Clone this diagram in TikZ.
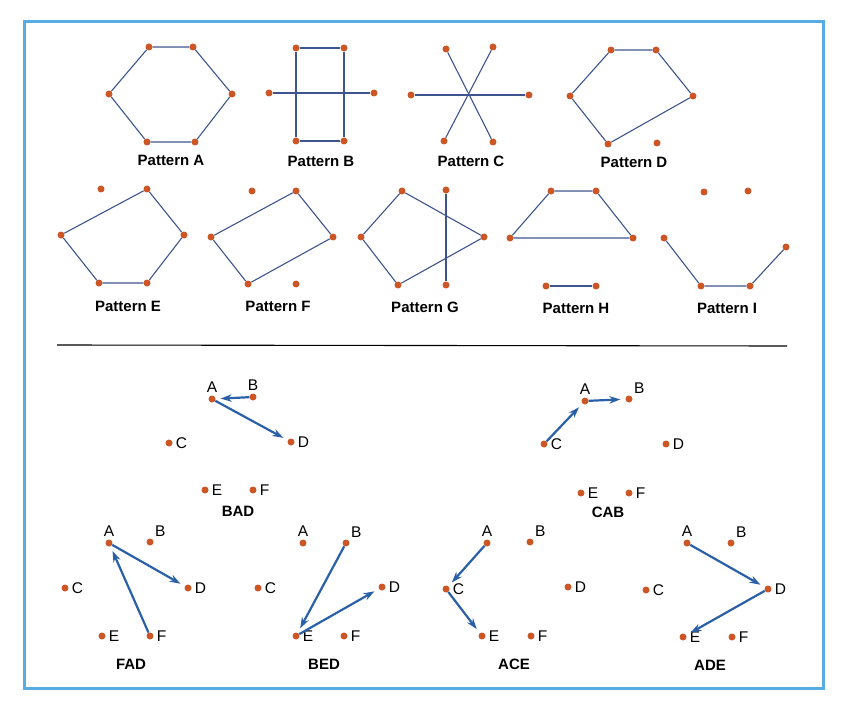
\documentclass[tikz,border=0pt]{standalone}
\usepackage{fontspec}
\setmainfont{Liberation Sans}
\usetikzlibrary{positioning, calc, arrows.meta}

\definecolor{framecol}{RGB}{88,172,228}
\definecolor{dotcol}{RGB}{204,86,38}
\definecolor{edgecol}{RGB}{62,84,140}
\definecolor{arrcol}{RGB}{42,96,168}

\tikzset{
  dot/.style={circle, fill=dotcol, inner sep=0pt, minimum size=7pt},
  edge/.style={edgecol, line width=1.1pt},
  arr/.style={arrcol, line width=2.2pt, -{Stealth[length=11pt,width=7.5pt]}, shorten >=5pt},
  title/.style={font=\fontsize{15}{18}\selectfont\bfseries},
  letter/.style={font=\fontsize{15.5}{18}\selectfont, inner sep=1pt, label distance=2pt},
}

\begin{document}
\begin{tikzpicture}[x=1pt, y=-1pt]
        \useasboundingbox (0,0) rectangle (848,714);
        \draw[framecol, line width=3pt] (24,22) rectangle (823,688);   %frame

        % pattern A
        \node[dot] (pA1) at (149,47) {};
        \node[dot] (pA2) at (193,47) {};
        \node[dot] (pA3) at (232,94) {};
        \node[dot] (pA4) at (195,142) {};
        \node[dot] (pA5) at (147,142) {};
        \node[dot] (pA6) at (109,94) {};
        \draw[edge] (pA1) -- (pA2) -- (pA3) -- (pA4) -- (pA5) -- (pA6) -- (pA1);
        \node[title] (tA) at (171,160) {Pattern A};

        % pattern B
        \node[dot] (pB1) at (296,48) {};
        \node[dot] (pB2) at (344,48) {};
        \node[dot] (pB3) at (344,141) {};
        \node[dot] (pB4) at (296,141) {};
        \node[dot] (pB5) at (269,93) {};
        \node[dot] (pB6) at (374,93) {};
        \draw[edge] (pB1) -- (pB2) -- (pB3) -- (pB4) -- (pB1);
        \draw[edge] (pB5) -- (pB6);
        \node[title] (tB) at (321,161) {Pattern B};

        % pattern C
        \node[dot] (pC1) at (446,49) {};
        \node[dot] (pC2) at (493,47) {};
        \node[dot] (pC3) at (529,95) {};
        \node[dot] (pC4) at (493,142) {};
        \node[dot] (pC5) at (444,141) {};
        \node[dot] (pC6) at (411,95) {};
        \draw[edge] (pC1) -- (pC4);
        \draw[edge] (pC2) -- (pC5);
        \draw[edge] (pC6) -- (pC3);
        \node[title] (tC) at (471,161) {Pattern C};

        % pattern D
        \node[dot] (pD1) at (611,50) {};
        \node[dot] (pD2) at (656,50) {};
        \node[dot] (pD3) at (693,96) {};
        \node[dot] (pD4) at (657,143) {};
        \node[dot] (pD5) at (608,144) {};
        \node[dot] (pD6) at (570,96) {};
        \draw[edge] (pD1) -- (pD2) -- (pD3) -- (pD5) -- (pD6) -- (pD1);
        \node[title] (tD) at (634,162) {Pattern D};

        % pattern E
        \node[dot] (pE1) at (101,189) {};
        \node[dot] (pE2) at (147,189) {};
        \node[dot] (pE3) at (184,235) {};
        \node[dot] (pE4) at (147,283) {};
        \node[dot] (pE5) at (99,283) {};
        \node[dot] (pE6) at (61,235) {};
        \draw[edge] (pE2) -- (pE3) -- (pE4) -- (pE5) -- (pE6) -- (pE2);
        \node[title] (tE) at (128,306) {Pattern E};

        % pattern F
        \node[dot] (pF1) at (252,191) {};
        \node[dot] (pF2) at (296,191) {};
        \node[dot] (pF3) at (333,237) {};
        \node[dot] (pF4) at (296,284) {};
        \node[dot] (pF5) at (248,284) {};
        \node[dot] (pF6) at (211,237) {};
        \draw[edge] (pF2) -- (pF3) -- (pF5) -- (pF6) -- (pF2);
        \node[title] (tF) at (278,306) {Pattern F};

        % pattern G
        \node[dot] (pG1) at (402,191) {};
        \node[dot] (pG2) at (446,190) {};
        \node[dot] (pG3) at (484,237) {};
        \node[dot] (pG4) at (446,285) {};
        \node[dot] (pG5) at (398,285) {};
        \node[dot] (pG6) at (361,237) {};
        \draw[edge] (pG1) -- (pG3) -- (pG5) -- (pG6) -- (pG1);
        \draw[edge] (pG2) -- (pG4);
        \node[title] (tG) at (425,307) {Pattern G};

        % pattern H
        \node[dot] (pH1) at (551,191) {};
        \node[dot] (pH2) at (596,191) {};
        \node[dot] (pH3) at (633,238) {};
        \node[dot] (pH4) at (596,286) {};
        \node[dot] (pH5) at (546,286) {};
        \node[dot] (pH6) at (510,238) {};
        \draw[edge] (pH1) -- (pH2) -- (pH3) -- (pH6) -- (pH1);
        \draw[edge] (pH5) -- (pH4);
        \node[title] (tH) at (576,308) {Pattern H};

        % pattern I
        \node[dot] (pI1) at (704,192) {};
        \node[dot] (pI2) at (748,191) {};
        \node[dot] (pI3) at (786,247) {};
        \node[dot] (pI4) at (750,286) {};
        \node[dot] (pI5) at (701,286) {};
        \node[dot] (pI6) at (664,238) {};
        \draw[edge] (pI6) -- (pI5) -- (pI4) -- (pI3);
        \node[title] (tI) at (727,308) {Pattern I};

        % separator
        \coordinate (sepL) at (57,345);
        \coordinate (sepR) at (787,346);
        \draw[black, line width=1.1pt] (sepL) -- (sepR);

        % BAD
        \node[dot, label={[letter]above:A}] (badA) at (212,399) {};
        \node[dot, label={[letter]above:B}] (badB) at (253,397) {};
        \node[dot, label={[letter]right:C}] (badC) at (169,443) {};
        \node[dot, label={[letter]right:D}] (badD) at (291,442) {};
        \node[dot, label={[letter]right:E}] (badE) at (205,490) {};
        \node[dot, label={[letter]right:F}] (badF) at (253,490) {};
        \draw[arr] (badB) -- (badA);
        \draw[arr] (badA) -- (badD);
        \node[title] (tBAD) at (238,511) {BAD};

        % CAB
        \node[dot, label={[letter]above:A}] (cabA) at (585,401) {};
        \node[dot, label={[letter]above right:B}] (cabB) at (629,399) {};
        \node[dot, label={[letter]right:C}] (cabC) at (544,444) {};
        \node[dot, label={[letter]right:D}] (cabD) at (666,444) {};
        \node[dot, label={[letter]right:E}] (cabE) at (581,493) {};
        \node[dot, label={[letter]right:F}] (cabF) at (629,493) {};
        \draw[arr] (cabC) -- (cabA);
        \draw[arr] (cabA) -- (cabB);
        \node[title] (tCAB) at (608,512) {CAB};

        % FAD
        \node[dot, label={[letter]above:A}] (fadA) at (109,543) {};
        \node[dot, label={[letter]above right:B}] (fadB) at (150,542) {};
        \node[dot, label={[letter]right:C}] (fadC) at (65,588) {};
        \node[dot, label={[letter]right:D}] (fadD) at (188,588) {};
        \node[dot, label={[letter]right:E}] (fadE) at (102,636) {};
        \node[dot, label={[letter]right:F}] (fadF) at (150,636) {};
        \draw[arr] (fadF) -- (fadA);
        \draw[arr] (fadA) -- (fadD);
        \node[title] (tFAD) at (131,664) {FAD};

        % BED
        \node[dot, label={[letter]above:A}] (bedA) at (303,543) {};
        \node[dot, label={[letter]above right:B}] (bedB) at (346,543) {};
        \node[dot, label={[letter]right:C}] (bedC) at (258,588) {};
        \node[dot, label={[letter]right:D}] (bedD) at (382,587) {};
        \node[dot, label={[letter]right:E}] (bedE) at (296,636) {};
        \node[dot, label={[letter]right:F}] (bedF) at (344,636) {};
        \draw[arr] (bedB) -- (bedE);
        \draw[arr] (bedE) -- (bedD);
        \node[title] (tBED) at (324,664) {BED};

        % ACE
        \node[dot, label={[letter]above:A}] (aceA) at (487,543) {};
        \node[dot, label={[letter]above right:B}] (aceB) at (530,542) {};
        \node[dot, label={[letter]right:C}] (aceC) at (446,589) {};
        \node[dot, label={[letter]right:D}] (aceD) at (568,587) {};
        \node[dot, label={[letter]right:E}] (aceE) at (482,636) {};
        \node[dot, label={[letter]right:F}] (aceF) at (531,636) {};
        \draw[arr] (aceA) -- (aceC);
        \draw[arr] (aceC) -- (aceE);
        \node[title] (tACE) at (514,664) {ACE};

        % ADE
        \node[dot, label={[letter]above:A}] (adeA) at (687,543) {};
        \node[dot, label={[letter]above right:B}] (adeB) at (731,543) {};
        \node[dot, label={[letter]right:C}] (adeC) at (646,590) {};
        \node[dot, label={[letter]right:D}] (adeD) at (768,589) {};
        \node[dot, label={[letter]right:E}] (adeE) at (683,637) {};
        \node[dot, label={[letter]right:F}] (adeF) at (732,637) {};
        \draw[arr] (adeA) -- (adeD);
        \draw[arr] (adeD) -- (adeE);
        \node[title] (tADE) at (710,665) {ADE};
      \end{tikzpicture}
\end{document}
